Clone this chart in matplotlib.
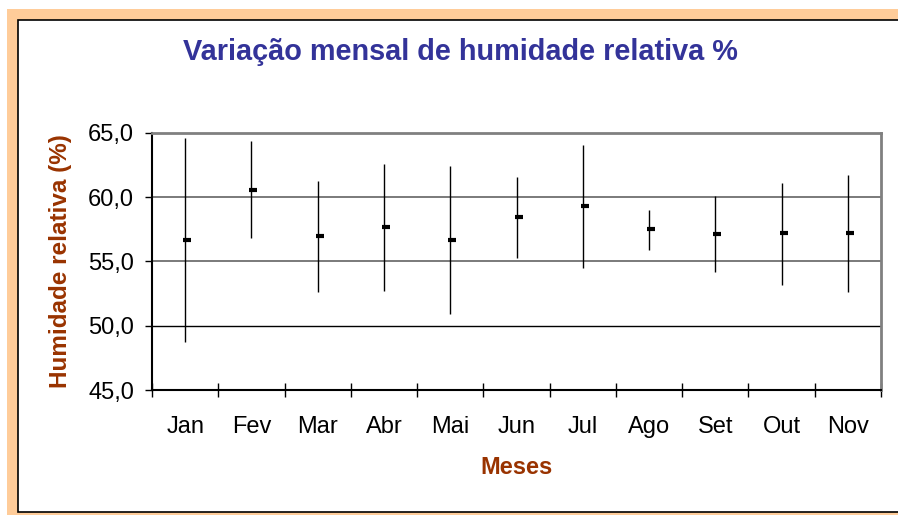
import matplotlib
matplotlib.use("Agg")
import matplotlib.pyplot as plt
import matplotlib.transforms as mtransforms
from matplotlib.patches import Rectangle

plt.rcParams['font.family'] = ['Liberation Sans', 'DejaVu Sans']

months = ["Jan", "Fev", "Mar", "Abr", "Mai", "Jun", "Jul", "Ago", "Set", "Out", "Nov"]
high = [64.6, 64.4, 61.3, 62.6, 62.4, 61.6, 64.1, 59.0, 60.1, 61.1, 61.7]
low = [48.7, 56.8, 52.6, 52.7, 50.9, 55.3, 54.5, 55.9, 54.2, 53.2, 52.6]
mean = [56.65, 60.6, 57.0, 57.7, 56.7, 58.5, 59.3, 57.5, 57.15, 57.2, 57.2]
yticks = [45, 50, 55, 60, 65]
ytick_labels = ["45,0", "50,0", "55,0", "60,0", "65,0"]

W, H = 898, 515
fig = plt.figure(figsize=(W / 100, H / 100), dpi=100)
fig.patch.set_facecolor('white')

# frame
fig.patches.append(Rectangle((7 / W, 0), 1, (H - 9) / H, transform=fig.transFigure,
                             facecolor='#FFCC99', edgecolor='none', zorder=-10))
fig.patches.append(Rectangle((18 / W, 3 / H), 1, (H - 19.5 - 3) / H, transform=fig.transFigure,
                             facecolor='white', edgecolor='black', linewidth=1.2, zorder=-9))

ax = fig.add_axes([152 / W, 1 - 390 / H, (881 - 152) / W, (390 - 133) / H])
ax.set_facecolor('white')

x = list(range(len(months)))
ax.vlines(x, low, high, colors='black', linewidth=1.0, zorder=3)
off = mtransforms.offset_copy(ax.transData, fig=fig, x=2, y=0, units='dots')
ax.plot(x, mean, linestyle='none', marker='_', markersize=6, markeredgewidth=3,
        color='black', transform=off, zorder=4)

ax.set_xlim(-0.5, len(months) - 0.5)
ax.set_ylim(45, 65)

ax.set_yticks(yticks)
ax.set_yticklabels(ytick_labels, fontsize=17)
ax.tick_params(axis='y', direction='out', length=5, width=1, pad=8, color='black')

ax.set_xticks([i - 0.5 for i in range(len(months) + 1)])
ax.set_xticklabels([])
ax.tick_params(axis='x', which='major', direction='inout', length=10, width=1, color='black')
ax.set_xticks(x, minor=True)
ax.set_xticklabels(months, minor=True, fontsize=17)
ax.tick_params(axis='x', which='minor', length=0, pad=18.5)

ax.yaxis.grid(True, color='#707070', linewidth=1.3, zorder=1)
ax.set_axisbelow(True)
for gl, v in zip(ax.get_ygridlines(), yticks):
    if v == 50:
        gl.set_color('black')
        gl.set_linewidth(1.0)

ax.spines['left'].set_color('black')
ax.spines['left'].set_linewidth(1.5)
ax.spines['bottom'].set_color('black')
ax.spines['bottom'].set_linewidth(1.5)
ax.spines['top'].set_color('#808080')
ax.spines['top'].set_linewidth(2)
ax.spines['right'].set_color('#808080')
ax.spines['right'].set_linewidth(2)

fig.text(460 / W, 1 - 52 / H, "Variação mensal de humidade relativa %", ha='center', va='center',
         fontsize=20.8, fontweight='bold', color='#333399')
fig.text(61 / W, 1 - 261 / H, "Humidade relativa (%)", ha='center', va='center', rotation=90,
         fontsize=17.5, fontweight='bold', color='#993300')
fig.text(516 / W, 1 - 467 / H, "Meses", ha='center', va='center',
         fontsize=17, fontweight='bold', color='#993300')

fig.savefig("out.png", dpi=100)
